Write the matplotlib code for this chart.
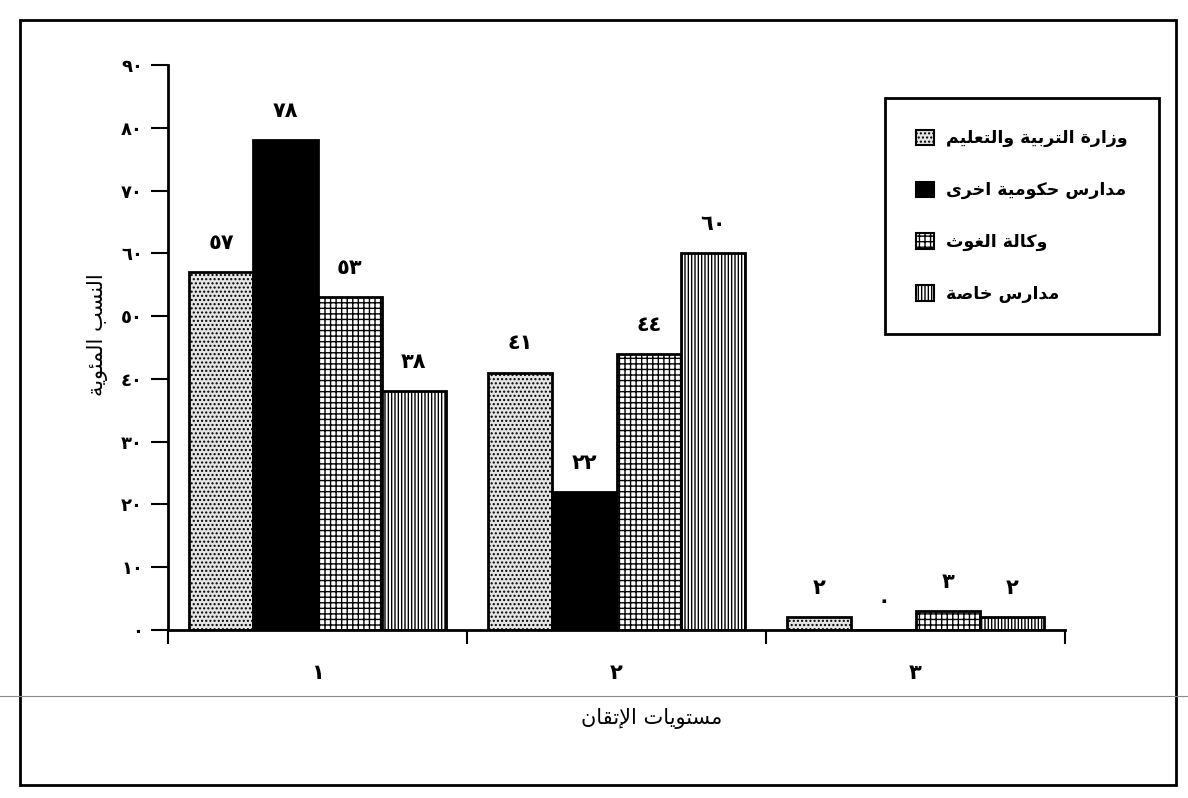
import matplotlib
matplotlib.use("Agg")
import matplotlib.pyplot as plt
from matplotlib.patches import Rectangle
from matplotlib.lines import Line2D

# data
levels = ["1", "2", "3"]
series = ["وزارة التربية والتعليم", "مدارس حكومية اخرى", "وكالة الغوث", "مدارس خاصة"]
moe = [57, 41, 2]
other_gov = [78, 22, 0]
unrwa = [53, 44, 3]
private = [38, 60, 2]
y_label = "النسب المئوية"
x_label = "مستويات الإتقان"

# matplotlib has no arabic shaping, so map letters to presentation forms by hand
# (first code point, number of forms: 2 = joins right only, 4 = joins both sides)
FORMS = {
    'ا': (0xFE8D, 2), 'إ': (0xFE87, 2), 'ب': (0xFE8F, 4), 'ة': (0xFE93, 2),
    'ت': (0xFE95, 4), 'ث': (0xFE99, 4), 'ح': (0xFEA1, 4), 'خ': (0xFEA5, 4),
    'د': (0xFEA9, 2), 'ر': (0xFEAD, 2), 'ز': (0xFEAF, 2), 'س': (0xFEB1, 4),
    'ص': (0xFEB9, 4), 'ع': (0xFEC9, 4), 'غ': (0xFECD, 4), 'ق': (0xFED5, 4),
    'ك': (0xFED9, 4), 'ل': (0xFEDD, 4), 'م': (0xFEE1, 4), 'ن': (0xFEE5, 4),
    'و': (0xFEED, 2), 'ى': (0xFEEF, 2), 'ي': (0xFEF1, 4), 'ئ': (0xFE89, 4),
    'لإ': (0xFEF9, 2),
}


def shape(text):
    chars = []
    i = 0
    while i < len(text):
        if text[i:i + 2] == 'لإ':   # lam-alef ligature
            chars.append('لإ')
            i += 2
        else:
            chars.append(text[i])
            i += 1
    out = []
    for k, c in enumerate(chars):
        if c not in FORMS:
            out.append(c)
            continue
        base, n = FORMS[c]
        prev = chars[k - 1] if k > 0 else None
        nxt = chars[k + 1] if k + 1 < len(chars) else None
        j_prev = prev in FORMS and FORMS[prev][1] == 4
        j_next = n == 4 and nxt in FORMS
        if j_prev and j_next:
            off = 3
        elif j_prev:
            off = 1
        elif j_next:
            off = 2
        else:
            off = 0
        out.append(chr(base + off))
    return ''.join(reversed(out))


AR_DIGITS = str.maketrans("0123456789", "٠١٢٣٤٥٦٧٨٩")


def ar_num(v):
    return str(v).translate(AR_DIGITS)


plt.rcParams['font.family'] = ['DejaVu Sans']
plt.rcParams['hatch.linewidth'] = 1.0

W, H = 1188, 798
fig = plt.figure(figsize=(W / 100, H / 100), dpi=100)
ax = fig.add_axes([168 / W, 1 - 630 / H, (1065 - 168) / W, (630 - 65) / H])

values = [moe, other_gov, unrwa, private]
styles = [
    dict(facecolor="#e4e4e4", hatch="...."),
    dict(facecolor="black", hatch=None),
    dict(facecolor="white", hatch="+++"),
    dict(facecolor="white", hatch="|||||"),
]
bw = 0.215
centers = [0.5, 1.5, 2.5]
handles = []
for i, (vals, st) in enumerate(zip(values, styles)):
    xs = [c + (i - 1.5) * bw for c in centers]
    bars = ax.bar(xs, vals, width=bw, edgecolor="black", linewidth=2, **st)
    handles.append(Rectangle((0, 0), 1, 1, edgecolor="black", linewidth=1.5, **st))
    for x, v in zip(xs, vals):
        ax.annotate(ar_num(v), (x, v), xytext=(0, 21), textcoords="offset points",
                    ha="center", va="center", fontsize=15, fontweight="bold")

ax.set_xlim(0, 3)
ax.set_ylim(0, 90)
for s in ["top", "right"]:
    ax.spines[s].set_visible(False)
for s in ["left", "bottom"]:
    ax.spines[s].set_linewidth(2)

yt = list(range(0, 91, 10))
ax.set_yticks(yt)
ax.set_yticklabels([ar_num(t) for t in yt], fontsize=13, fontweight="bold")
ax.tick_params(axis="y", direction="out", length=12, width=1.5, pad=6)

ax.set_xticks([0, 1, 2, 3])
ax.set_xticklabels([])
ax.tick_params(axis="x", which="major", direction="out", length=10, width=1.5)
ax.set_xticks(centers, minor=True)
ax.set_xticklabels([ar_num(l) for l in levels], minor=True, fontsize=15, fontweight="bold")
ax.tick_params(axis="x", which="minor", length=0, pad=24)

ax.set_ylabel(shape(y_label), fontsize=15)
ax.yaxis.set_label_coords((108 - 168) / (1065 - 168), (630 - 335) / (630 - 65))
ax.set_xlabel(shape(x_label), fontsize=15)
ax.xaxis.set_label_coords((652 - 168) / (1065 - 168), -(708 - 630) / (630 - 65))

leg = ax.legend(handles, [shape(s) for s in series], loc="upper left",
                bbox_to_anchor=(885 / W, 1 - 98 / H), bbox_transform=fig.transFigure,
                prop=dict(weight="bold", size=12.5), frameon=True, fancybox=False,
                handlelength=1.0, handleheight=1.0, handletextpad=0.7,
                labelspacing=1.95, borderpad=1.8, borderaxespad=0)
leg.get_frame().set_edgecolor("black")
leg.get_frame().set_linewidth(2)
leg.get_frame().set_alpha(1)

# scan fold line and outer frame
fig.add_artist(Line2D([0, 1], [1 - 696 / H, 1 - 696 / H], transform=fig.transFigure,
                      color="#8a8a8a", lw=0.8))
fig.add_artist(Rectangle((20 / W, 1 - 785 / H), (1176 - 20) / W, (785 - 20) / H,
                         transform=fig.transFigure, fill=False, edgecolor="black", lw=2))

fig.savefig("out.png", dpi=100)
